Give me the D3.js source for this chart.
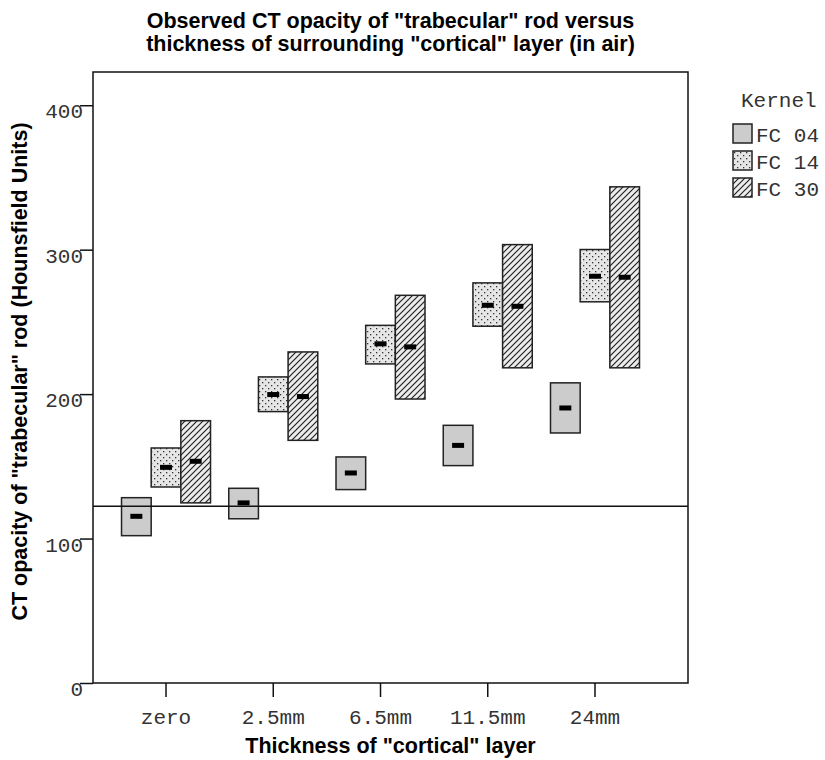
<!DOCTYPE html>
<html>
<head>
<meta charset="utf-8">
<script src="https://cdn.jsdelivr.net/npm/d3@7"></script>
<style>
  body { margin: 0; background: #fff; }
  svg { display: block; }
  .mono { font-family: "Liberation Mono", "Courier New", monospace; fill: #333; }
  .bold { font-family: "Liberation Sans", Arial, sans-serif; font-weight: bold; fill: #000; }
</style>
</head>
<body>
<div id="chart"></div>
<script>
const categories = ['zero', '2.5mm', '6.5mm', '11.5mm', '24mm'];
const kernels = ['FC 04', 'FC 14', 'FC 30'];
const yTicks = [0, 100, 200, 300, 400];

// lower end, upper end and mean of each box, per kernel
const fc04Low = [102.0, 113.7, 133.9, 150.5, 173.1];
const fc04High = [128.3, 134.8, 156.5, 178.4, 207.8];
const fc04Mean = [115.4, 124.7, 145.4, 164.5, 190.4];
const fc14Low = [135.7, 187.9, 220.9, 247.0, 263.9];
const fc14High = [162.7, 211.9, 247.6, 277.0, 300.1];
const fc14Mean = [149.3, 199.7, 234.8, 261.5, 281.6];
const fc30Low = [124.7, 168.0, 196.6, 218.2, 218.2];
const fc30High = [181.6, 229.2, 268.4, 303.5, 343.5];
const fc30Mean = [153.5, 198.3, 232.7, 260.8, 280.9];
const referenceLine = 122.3;

const lows = [fc04Low, fc14Low, fc30Low];
const highs = [fc04High, fc14High, fc30High];
const means = [fc04Mean, fc14Mean, fc30Mean];

const boxes = [];
kernels.forEach((k, s) => {
  categories.forEach((c, i) => {
    boxes.push({kernel: k, cat: c, low: lows[s][i], high: highs[s][i], mean: means[s][i]});
  });
});

const width = 825;
const height = 760;
const plot = {left: 93, right: 688, top: 72, bottom: 683};

const svg = d3.select('#chart').append('svg')
    .attr('width', width)
    .attr('height', height);

const defs = svg.append('defs');
const dots = defs.append('pattern')
    .attr('id', 'dots')
    .attr('patternUnits', 'userSpaceOnUse')
    .attr('width', 6)
    .attr('height', 6);
dots.append('rect').attr('width', 6).attr('height', 6).attr('fill', '#e6e6e6');
dots.append('rect').attr('x', 1).attr('y', 1).attr('width', 1.3).attr('height', 1.3).attr('fill', '#333');
dots.append('rect').attr('x', 4).attr('y', 4).attr('width', 1.3).attr('height', 1.3).attr('fill', '#333');

const hatch = defs.append('pattern')
    .attr('id', 'hatch')
    .attr('patternUnits', 'userSpaceOnUse')
    .attr('width', 6)
    .attr('height', 6);
hatch.append('rect').attr('width', 6).attr('height', 6).attr('fill', '#ececec');
hatch.append('path')
    .attr('d', 'M0,6 L6,0 M-1,1 L1,-1 M5,7 L7,5')
    .attr('stroke', '#222')
    .attr('stroke-width', 1.2);

const fills = {'FC 04': '#cccccc', 'FC 14': 'url(#dots)', 'FC 30': 'url(#hatch)'};

const x = d3.scaleBand()
    .domain(categories)
    .range([plot.left, plot.right])
    .paddingInner(0)
    .paddingOuter(0.274)
    .align(0.33);
const sub = d3.scaleBand()
    .domain(kernels)
    .range([-44.5, 44.5]);
const y = d3.scaleLinear()
    .domain([0, 423])
    .range([plot.bottom, plot.top]);

// frame
svg.append('rect')
    .attr('x', plot.left)
    .attr('y', plot.top)
    .attr('width', plot.right - plot.left)
    .attr('height', plot.bottom - plot.top)
    .attr('fill', 'none')
    .attr('stroke', '#111')
    .attr('stroke-width', 1.5);

// y axis
const yAxis = svg.append('g')
    .attr('transform', `translate(${plot.left},0)`)
    .call(d3.axisLeft(y).tickValues(yTicks).tickSize(13).tickPadding(-3).tickFormat(d3.format('d')));
yAxis.select('.domain').remove();
yAxis.selectAll('line').attr('stroke', '#111').attr('stroke-width', 1.5);
yAxis.selectAll('text')
    .attr('class', 'mono')
    .attr('font-size', 21)
    .attr('dy', '0.6em');

// x axis
const xAxis = svg.append('g')
    .attr('transform', `translate(0,${plot.bottom})`)
    .call(d3.axisBottom(x).tickSize(14).tickPadding(12));
xAxis.select('.domain').remove();
xAxis.selectAll('line').attr('stroke', '#111').attr('stroke-width', 1.5);
xAxis.selectAll('text')
    .attr('class', 'mono')
    .attr('font-size', 21);

// boxes
const cx = (d) => x(d.cat) + x.bandwidth() / 2 + sub(d.kernel);
svg.append('g').selectAll('rect')
    .data(boxes)
    .enter()
    .append('rect')
    .attr('x', (d) => cx(d))
    .attr('y', (d) => y(d.high))
    .attr('width', sub.bandwidth())
    .attr('height', (d) => y(d.low) - y(d.high))
    .attr('fill', (d) => fills[d.kernel])
    .attr('stroke', '#222')
    .attr('stroke-width', 1.5);

svg.append('g').selectAll('rect')
    .data(boxes)
    .enter()
    .append('rect')
    .attr('x', (d) => cx(d) + sub.bandwidth() / 2 - 6)
    .attr('y', (d) => y(d.mean) - 2.5)
    .attr('width', 12)
    .attr('height', 5)
    .attr('fill', '#000');

// reference line
svg.append('line')
    .attr('x1', plot.left)
    .attr('x2', plot.right)
    .attr('y1', y(referenceLine))
    .attr('y2', y(referenceLine))
    .attr('stroke', '#111')
    .attr('stroke-width', 1.5);

// titles
const midX = (plot.left + plot.right) / 2;
const title = svg.append('text')
    .attr('class', 'bold')
    .attr('text-anchor', 'middle')
    .attr('font-size', 21.5);
title.append('tspan').attr('x', midX).attr('y', 28)
    .text('Observed CT opacity of "trabecular" rod versus');
title.append('tspan').attr('x', midX).attr('y', 51)
    .text('thickness of surrounding "cortical" layer (in air)');

svg.append('text')
    .attr('class', 'bold')
    .attr('text-anchor', 'middle')
    .attr('font-size', 21.5)
    .attr('x', midX)
    .attr('y', 753)
    .text('Thickness of "cortical" layer');

svg.append('text')
    .attr('class', 'bold')
    .attr('text-anchor', 'middle')
    .attr('font-size', 21.5)
    .attr('transform', `translate(27,${(plot.top + plot.bottom) / 2 - 6}) rotate(-90)`)
    .text('CT opacity of "trabecular" rod (Hounsfield Units)');

// legend
const legend = svg.append('g').attr('transform', 'translate(733,0)');
legend.append('text')
    .attr('class', 'mono')
    .attr('font-size', 21)
    .attr('x', 8)
    .attr('y', 107)
    .text('Kernel');
const items = legend.selectAll('g.item')
    .data(kernels)
    .enter()
    .append('g')
    .attr('class', 'item')
    .attr('transform', (d, i) => `translate(0,${124 + i * 27})`);
items.append('rect')
    .attr('width', 19)
    .attr('height', 19)
    .attr('fill', (d) => fills[d])
    .attr('stroke', '#222')
    .attr('stroke-width', 1.5);
items.append('text')
    .attr('class', 'mono')
    .attr('font-size', 21)
    .attr('x', 23)
    .attr('y', 18)
    .text((d) => d);
</script>
</body>
</html>
